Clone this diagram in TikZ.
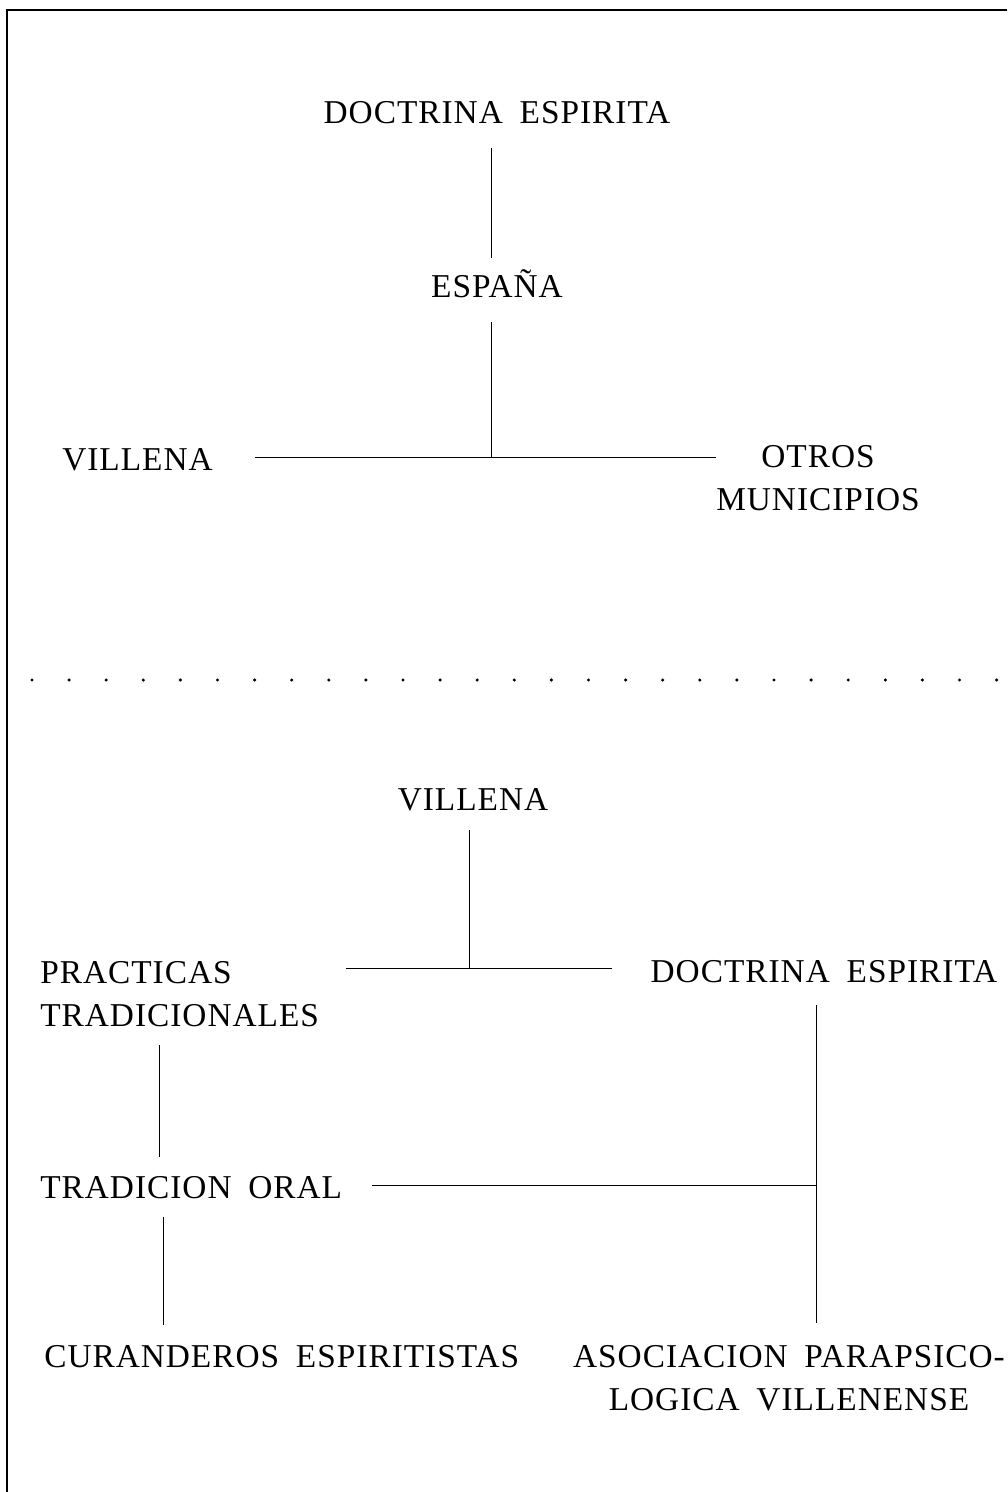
\documentclass[tikz,border=0pt]{standalone}
\usepackage{fontspec}
\setmainfont[LetterSpace=3,WordSpace=1.8]{Liberation Serif}
\tikzset{
  lbl/.style={inner sep=0pt, text height=16.5pt, text depth=0pt, font=\fontsize{25}{32}\selectfont},
  lbltwo/.style={inner sep=0pt, font=\fontsize{25}{32}\selectfont},
  link/.style={line width=0.6pt},
}
\begin{document}
\begin{tikzpicture}[x=0.75pt,y=0.75pt,yscale=-1]
\useasboundingbox (0,0) rectangle (1007,1492);

%Shape: Frame
\draw [line width=1.2pt]   (1007,10) -- (7,10) -- (7,1492) ;

%Dotted Lines
\foreach \i in {0,...,26}
  \fill (32+37.1*\i,680) circle (1.7) ;

% Text Node
\draw (497,123) node [lbl, anchor=base] (doctrina) {DOCTRINA ESPIRITA};
% Text Node
\draw (497,297) node [lbl, anchor=base] (espana) {ESPAÑA};
% Text Node
\draw (62,470) node [lbl, anchor=base west] (villenaA) {VILLENA};
% Text Node
\draw (818,510) node [lbltwo, anchor=base, align=center] (otros) {OTROS\\MUNICIPIOS};
% Text Node
\draw (473,810) node [lbl, anchor=base] (villenaB) {VILLENA};
% Text Node
\draw (40,1026) node [lbltwo, anchor=base west, align=left] (practicas) {PRACTICAS\\TRADICIONALES};
% Text Node
\draw (824,982) node [lbl, anchor=base] (doctrinaB) {DOCTRINA ESPIRITA};
% Text Node
\draw (40,1198) node [lbl, anchor=base west] (oral) {TRADICION ORAL};
% Text Node
\draw (44,1367) node [lbl, anchor=base west] (curanderos) {CURANDEROS ESPIRITISTAS};
% Text Node
\draw (789,1410) node [lbltwo, anchor=base, align=center] (asociacion) {ASOCIACION PARAPSICO-\\LOGICA VILLENENSE};

%Junctions
\coordinate (hubA) at (491,457) ;
\coordinate (hubB) at (469,968) ;
\coordinate (hubC) at (816,1185) ;
\coordinate (stemL) at ([xshift=-15pt]practicas.south) ;
\coordinate (stemO) at ([xshift=-21pt]oral.south) ;

%Straight Lines
\draw [link, shorten <=18.75pt, shorten >=12.75pt]    (doctrina.south -| hubA) -- (espana.north -| hubA) ;
%Straight Lines
\draw [link, shorten <=18.75pt]    (espana.south -| hubA) -- (hubA) ;
%Straight Lines
\draw [link, shorten <=31.5pt]    (villenaA.east |- hubA) -- (otros.west |- hubA) ;
%Straight Lines
\draw [link, shorten <=15pt]    (villenaB.south -| hubB) -- (hubB) ;
%Straight Lines
\draw [link, shorten <=20pt, shorten >=28.5pt]    (practicas.east |- hubB) -- (doctrinaB.west |- hubB) ;
%Straight Lines
\draw [link, shorten <=14pt, shorten >=14.3pt]    (stemL) -- (stemL |- oral.north) ;
%Straight Lines
\draw [link, shorten <=22.5pt]    (oral.east |- hubC) -- (hubC) ;
%Straight Lines
\draw [link, shorten <=17pt, shorten >=16.5pt]    (doctrinaB.south -| hubC) -- (asociacion.north -| hubC) ;
%Straight Lines
\draw [link, shorten <=14pt, shorten >=15pt]    (stemO) -- (stemO |- curanderos.north) ;

\end{tikzpicture}
\end{document}
